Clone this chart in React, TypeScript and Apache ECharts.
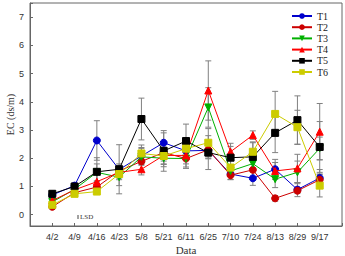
import React, { useEffect, useRef } from "react";
import * as echarts from "echarts";

const categories = ["4/2", "4/9", "4/16", "4/23", "5/8", "5/21", "6/11", "6/25", "7/10", "7/24", "8/13", "8/29", "9/17"];
const seriesNames = ["T1", "T2", "T3", "T4", "T5", "T6"];
const t1 = [0.7, 1.03, 2.63, 1.6, 2.08, 2.55, 2.26, 2.28, 1.44, 1.29, 1.61, 0.89, 1.3];
const t2 = [0.28, 0.78, 0.98, 1.55, 1.89, 2.2, 1.99, 2.3, 1.4, 1.59, 0.58, 0.85, 1.24];
const t3 = [0.45, 0.9, 1.5, 1.33, 2.05, 2.0, 1.99, 3.8, 1.55, 1.81, 1.26, 1.5, 2.35];
const t4 = [0.5, 0.88, 1.17, 1.5, 1.61, 2.1, 2.1, 4.4, 2.23, 2.82, 1.55, 1.64, 2.94];
const t5 = [0.74, 1.0, 1.52, 1.61, 3.39, 2.26, 2.61, 2.2, 2.02, 2.05, 2.9, 3.35, 2.4];
const t6 = [0.35, 0.74, 0.82, 1.44, 2.17, 2.08, 2.34, 2.55, 1.67, 2.23, 3.57, 3.1, 1.03];
const e1 = [0.1, 0.08, 0.7, 0.2, 0.3, 0.35, 0.3, 0.3, 0.2, 0.25, 0.35, 0.25, 0.3];
const e2 = [0.08, 0.1, 0.2, 0.2, 0.3, 0.3, 0.35, 0.3, 0.15, 0.3, 0.1, 0.1, 0.2];
const e3 = [0.1, 0.1, 0.3, 0.3, 0.3, 0.3, 0.3, 0.7, 0.2, 0.3, 0.3, 0.4, 0.4];
const e4 = [0.1, 0.1, 0.25, 0.2, 0.2, 0.3, 0.3, 1.05, 0.3, 0.15, 0.3, 0.5, 1.0];
const e5 = [0.12, 0.08, 0.5, 0.87, 0.74, 0.72, 0.6, 0.6, 0.4, 0.5, 0.7, 0.86, 0.9];
const e6 = [0.1, 0.1, 0.1, 0.2, 0.3, 0.3, 0.3, 0.5, 0.3, 0.35, 0.8, 0.6, 0.4];
const yTicks = [0, 1, 2, 3, 4, 5, 6, 7];

const values = [t1, t2, t3, t4, t5, t6];
const errors = [e1, e2, e3, e4, e5, e6];
const colors = ["#0000cc", "#cc0000", "#00b000", "#ff0000", "#000000", "#cccc00"];
const symbols = ["circle", "circle", "path://M0,0 L10,0 L5,9 Z", "triangle", "rect", "rect"];

export default function App() {
  const ref = useRef<HTMLDivElement>(null);
  useEffect(() => {
    if (!ref.current) return;
    const chart = echarts.init(ref.current, null, { renderer: "svg" });
    const lineSeries = values.map((vals, s) => ({
      name: seriesNames[s],
      type: "line",
      data: vals.map((v, i) => [i, v]),
      symbol: symbols[s],
      symbolSize: 7,
      z: 3 + s,
      lineStyle: { color: colors[s], width: 1 },
      itemStyle: { color: colors[s], borderColor: colors[s] },
    }));
    const errData: number[][] = [];
    values.forEach((vals, s) => {
      vals.forEach((v, i) => errData.push([i, v - errors[s][i], v + errors[s][i]]));
    });
    const errSeries = {
      type: "custom",
      z: 1,
      silent: true,
      data: errData,
      renderItem: (params: any, api: any) => {
        const x = api.value(0);
        const lo = api.coord([x, api.value(1)]);
        const hi = api.coord([x, api.value(2)]);
        const w = 3;
        const style = { stroke: "#808080", lineWidth: 1 };
        return {
          type: "group",
          children: [
            { type: "line", shape: { x1: lo[0], y1: lo[1], x2: hi[0], y2: hi[1] }, style },
            { type: "line", shape: { x1: lo[0] - w, y1: lo[1], x2: lo[0] + w, y2: lo[1] }, style },
            { type: "line", shape: { x1: hi[0] - w, y1: hi[1], x2: hi[0] + w, y2: hi[1] }, style },
          ],
        };
      },
    };
    chart.setOption({
      animation: false,
      grid: {
        left: 30, right: 3, top: 3, bottom: 30,
        show: true, borderColor: "#666", borderWidth: 1,
        containLabel: false, outerBoundsMode: "none",
      },
      legend: {
        data: seriesNames,
        orient: "vertical",
        left: 291,
        top: 11,
        padding: 0,
        itemWidth: 20,
        itemHeight: 7,
        itemGap: 1.2,
        textStyle: { fontFamily: "Liberation Serif", fontSize: 10, color: "#222", lineHeight: 10 },
      },
      xAxis: {
        type: "value",
        min: -1,
        max: 13,
        interval: 1,
        name: "Data",
        nameLocation: "middle",
        nameGap: 18,
        nameMoveOverlap: false,
        nameTextStyle: { fontFamily: "Liberation Serif", fontSize: 11, color: "#333" },
        axisLine: { onZero: false, lineStyle: { color: "#666" } },
        axisTick: { inside: true, length: 3, lineStyle: { color: "#666" } },
        splitLine: { show: false },
        axisLabel: {
          fontFamily: "Liberation Sans",
          fontSize: 9,
          color: "#333",
          margin: 6,
          formatter: (v: number) => (categories[v] !== undefined ? categories[v] : ""),
        },
      },
      yAxis: {
        type: "value",
        min: -0.4,
        max: 7.5,
        splitNumber: 8,
        minInterval: 1,
        maxInterval: 1,
        name: "EC (ds/m)",
        nameLocation: "middle",
        nameGap: 15,
        nameMoveOverlap: false,
        nameTextStyle: { fontFamily: "Liberation Serif", fontSize: 10, color: "#333" },
        axisLine: { onZero: false, lineStyle: { color: "#666" } },
        axisTick: { inside: true, length: 3, lineStyle: { color: "#666" } },
        splitLine: { show: false },
        axisLabel: {
          fontFamily: "Liberation Sans",
          fontSize: 9,
          color: "#333",
          margin: 6,
          formatter: (v: number) => (yTicks.indexOf(v) >= 0 ? String(v) : ""),
        },
      },
      graphic: [
        { type: "line", shape: { x1: 78, y1: 215, x2: 78, y2: 219 }, style: { stroke: "#444", lineWidth: 1 } },
        { type: "text", x: 80, y: 213, style: { text: "LSD", fontFamily: "Liberation Serif", fontSize: 7, fill: "#333" } },
      ],
      series: [errSeries, ...lineSeries],
    });
    return () => chart.dispose();
  }, []);
  return <div ref={ref} style={{ width: 345, height: 256, position: "absolute", left: 0, top: 0 }} />;
}
